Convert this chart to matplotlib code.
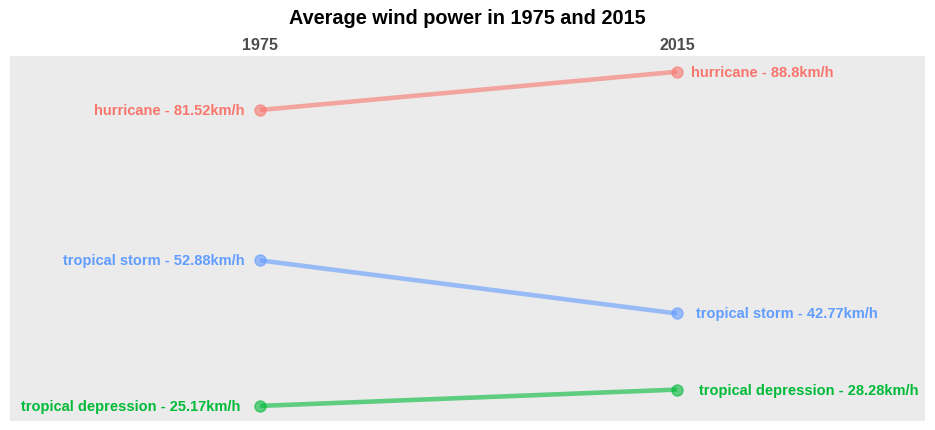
import matplotlib
matplotlib.use("Agg")
from matplotlib import pyplot as plt

plt.rcParams['font.family'] = ['Liberation Sans', 'DejaVu Sans']

years = [1975, 2015]
categories = ["hurricane", "tropical storm", "tropical depression"]
wind_1975 = [81.52, 52.88, 25.17]
wind_2015 = [88.8, 42.77, 28.28]
colors = ["#F8766D", "#619CFF", "#00BA38"]

# label gaps from the points (in years), slightly uneven like the original
gap_left = [1.5, 1.5, 1.9]
gap_right = [1.35, 1.8, 2.1]

fig = plt.figure(figsize=(9.35, 4.31), dpi=100)
ax = fig.add_axes([10/935, 9/431, 915/935, 365/431])
ax.set_facecolor("#EBEBEB")

for i, (cat, v0, v1, c) in enumerate(zip(categories, wind_1975, wind_2015, colors)):
	ax.plot(years, [v0, v1], color=c, lw=3.3, alpha=0.6, solid_capstyle="butt", zorder=2)
	ax.plot(years, [v0, v1], "o", color=c, ms=8, alpha=0.6, mec=c, zorder=3)
	ax.text(years[0] - gap_left[i], v0, "%s - %skm/h" % (cat, v0), color=c, fontsize=10.5,
			fontweight="bold", ha="right", va="center")
	ax.text(years[1] + gap_right[i], v1, "%s - %skm/h" % (cat, v1), color=c, fontsize=10.5,
			fontweight="bold", ha="left", va="center")

ax.set_xlim(1951, 2038.8)
ax.set_ylim(22.3, 91.8)
ax.set_xticks([])
ax.set_yticks([])
for s in ax.spines.values():
	s.set_visible(False)

for yr in years:
	ax.text(yr, 1.012, str(yr), transform=ax.get_xaxis_transform(), ha="center",
			va="bottom", fontsize=11.6, fontweight="bold", color="#4D4D4D")

fig.text(0.5, 1 - 18/431, "Average wind power in 1975 and 2015", ha="center",
		 va="center", fontsize=14.3, fontweight="bold")

fig.savefig("out.png", dpi=100, facecolor="white")
